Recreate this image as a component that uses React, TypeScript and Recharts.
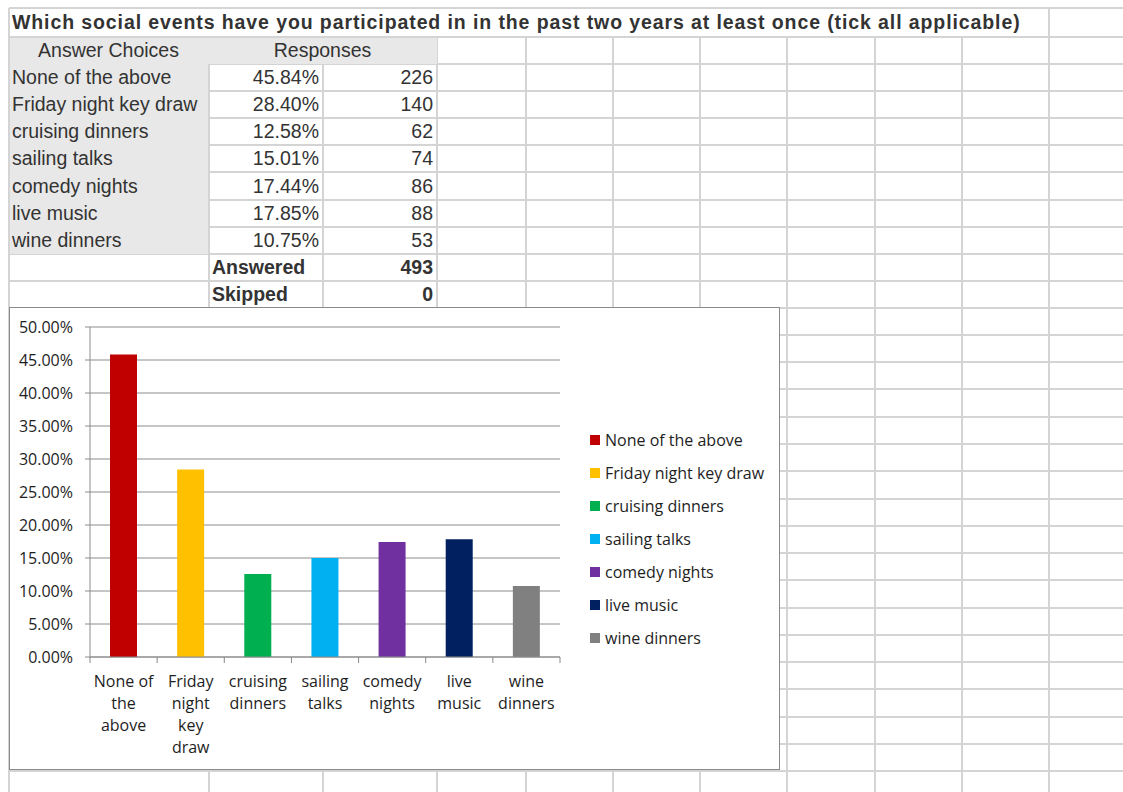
import React from "react";
import { BarChart, Bar, XAxis, YAxis, CartesianGrid, Cell, Legend } from "recharts";

const title = "Which social events have you participated in in the past two years at least once (tick all applicable)";
const categories = [
  "None of the above",
  "Friday night key draw",
  "cruising dinners",
  "sailing talks",
  "comedy nights",
  "live music",
  "wine dinners",
];
const shares = [0.4584, 0.284, 0.1258, 0.1501, 0.1744, 0.1785, 0.1075];
const counts = [226, 140, 62, 74, 86, 88, 53];
const colors = ["#C00000", "#FFC000", "#00B050", "#00B0F0", "#7030A0", "#002060", "#808080"];
// wrapped category labels as they appear under the bars
const tickLines = [
  ["None of", "the", "above"],
  ["Friday", "night", "key", "draw"],
  ["cruising", "dinners"],
  ["sailing", "talks"],
  ["comedy", "nights"],
  ["live", "music"],
  ["wine", "dinners"],
];
const yTicks = [0, 0.05, 0.1, 0.15, 0.2, 0.25, 0.3, 0.35, 0.4, 0.45, 0.5];
const answered = 493;
const skipped = 0;

// sheet layout
const colX = [9, 209, 323, 437, 526, 613, 700, 787, 875, 962, 1049, 1136];
const rowY = [8, 37, 64, 91, 118, 145, 172, 200, 227, 254, 281, 308, 335, 362, 389, 417, 444, 471, 499, 526, 553, 580, 608, 635, 662, 689, 717, 744, 771, 798];
const GRID = "#d4d4d4";
const SHADE = "#e8e8e8";
const TXT = "#333";
const CHART_TXT = "#1e1e1e";
const chartFont = "'Open Sans', sans-serif";
const CHART_FS = 16;

const PLOT_W = 470;
const BAND = PLOT_W / categories.length;

const data = categories.map((name, i) => ({ name, share: shares[i] }));
const pct = (v: number) => (v * 100).toFixed(2) + "%";

function CategoryTick(props: any) {
  const { x, y, index } = props;
  const lines = tickLines[index] || [];
  return (
    <g>
      <line x1={x - BAND / 2} x2={x - BAND / 2} y1={y} y2={y + 6} stroke="#888" />
      {index === categories.length - 1 && (
        <line x1={x + BAND / 2} x2={x + BAND / 2} y1={y} y2={y + 6} stroke="#888" />
      )}
      <text x={x} y={y + 30} textAnchor="middle" fill={CHART_TXT} fontSize={CHART_FS} fontFamily={chartFont}>
        {lines.map((l, i) => (
          <tspan key={i} x={x} dy={i === 0 ? 0 : 22}>
            {l}
          </tspan>
        ))}
      </text>
    </g>
  );
}

function LegendBox() {
  return (
    <div style={{ fontFamily: chartFont, fontSize: CHART_FS, color: CHART_TXT }}>
      {categories.map((c, i) => (
        <div key={c} style={{ height: 33, display: "flex", alignItems: "center", whiteSpace: "nowrap" }}>
          <span style={{ width: 10, height: 10, background: colors[i], display: "inline-block", marginRight: 5 }} />
          {c}
        </div>
      ))}
    </div>
  );
}

function Cell_({ x, y, w, h, children, align = "left", bold = false }: any) {
  return (
    <div
      style={{
        position: "absolute",
        left: x,
        top: y,
        width: w,
        height: h,
        display: "flex",
        alignItems: "center",
        justifyContent: align === "right" ? "flex-end" : align === "center" ? "center" : "flex-start",
        padding: "0 4px 0 3px",
        boxSizing: "border-box",
        fontFamily: "'Liberation Sans', Arial, sans-serif",
        fontSize: 19.5,
        fontWeight: bold ? 700 : 400,
        color: TXT,
        whiteSpace: "nowrap",
      }}
    >
      {children}
    </div>
  );
}

function SheetGrid() {
  const lines: React.ReactNode[] = [];
  lines.push(<rect key="top" x={9} y={7} width={1114} height={2} fill={GRID} />);
  rowY.slice(1).forEach((y, i) => lines.push(<rect key={"r" + i} x={9} y={y - 1} width={1114} height={2} fill={GRID} />));
  colX.forEach((x, i) => lines.push(<rect key={"c" + i} x={x - 1} y={37} width={2} height={760} fill={GRID} />));
  lines.push(<rect key="t0" x={8} y={8} width={2} height={29} fill={GRID} />);
  lines.push(<rect key="t1" x={1048} y={8} width={2} height={29} fill={GRID} />);
  return (
    <svg width={1123} height={792} style={{ position: "absolute", left: 0, top: 0 }}>
      <rect x={0} y={0} width={1123} height={792} fill="#fff" />
      {lines}
      <rect x={10} y={38} width={427} height={26} fill={SHADE} />
      <rect x={10} y={64} width={198} height={190} fill={SHADE} />
    </svg>
  );
}

export default function App() {
  const rowH = (i: number) => rowY[i + 1] - rowY[i];
  return (
    <div style={{ position: "absolute", left: 0, top: 0, width: 1123, height: 792, overflow: "hidden", background: "#fff" }}>
      <SheetGrid />
      <div
        style={{
          position: "absolute",
          left: 12,
          top: 8,
          height: 29,
          display: "flex",
          alignItems: "center",
          fontFamily: "'Liberation Sans', Arial, sans-serif",
          fontWeight: 700,
          fontSize: 19.5,
          letterSpacing: 0.9,
          color: TXT,
          whiteSpace: "nowrap",
        }}
      >
        {title}
      </div>
      <Cell_ x={colX[0]} y={rowY[1]} w={colX[1] - colX[0]} h={rowH(1)} align="center">
        Answer Choices
      </Cell_>
      <Cell_ x={colX[1]} y={rowY[1]} w={colX[3] - colX[1]} h={rowH(1)} align="center">
        Responses
      </Cell_>
      {categories.map((c, i) => (
        <React.Fragment key={c}>
          <Cell_ x={colX[0]} y={rowY[i + 2]} w={colX[1] - colX[0]} h={rowH(i + 2)}>
            {c}
          </Cell_>
          <Cell_ x={colX[1]} y={rowY[i + 2]} w={colX[2] - colX[1]} h={rowH(i + 2)} align="right">
            {pct(shares[i])}
          </Cell_>
          <Cell_ x={colX[2]} y={rowY[i + 2]} w={colX[3] - colX[2]} h={rowH(i + 2)} align="right">
            {counts[i]}
          </Cell_>
        </React.Fragment>
      ))}
      <Cell_ x={colX[1]} y={rowY[9]} w={colX[2] - colX[1]} h={rowH(9)} bold>
        Answered
      </Cell_>
      <Cell_ x={colX[2]} y={rowY[9]} w={colX[3] - colX[2]} h={rowH(9)} align="right" bold>
        {answered}
      </Cell_>
      <Cell_ x={colX[1]} y={rowY[10]} w={colX[2] - colX[1]} h={rowH(10)} bold>
        Skipped
      </Cell_>
      <Cell_ x={colX[2]} y={rowY[10]} w={colX[3] - colX[2]} h={rowH(10)} align="right" bold>
        {skipped}
      </Cell_>

      <div
        style={{
          position: "absolute",
          left: 9,
          top: 307,
          width: 771,
          height: 463,
          border: "1px solid #8a8a8a",
          boxSizing: "border-box",
          background: "#fff",
        }}
      >
        <BarChart width={769} height={461} data={data} margin={{ top: 19, right: 219, bottom: 0, left: 0 }}>
          <CartesianGrid vertical={false} stroke="#8c8c8c" />
          <XAxis
            dataKey="name"
            height={112}
            interval={0}
            tickSize={0}
            tickMargin={0}
            tickLine={false}
            axisLine={{ stroke: "#8c8c8c" }}
            tick={<CategoryTick />}
          />
          <YAxis
            width={80}
            domain={[0, 0.5]}
            ticks={yTicks}
            tickFormatter={pct}
            tickSize={5}
            tickMargin={12}
            axisLine={{ stroke: "#8c8c8c" }}
            tickLine={{ stroke: "#8c8c8c" }}
            tick={{ fill: CHART_TXT, fontSize: CHART_FS, fontFamily: chartFont }}
          />
          <Legend
            layout="vertical"
            align="center"
            verticalAlign="middle"
            wrapperStyle={{ left: 580, top: 115, width: 185 }}
            content={() => <LegendBox />}
          />
          <Bar dataKey="share" barSize={27} isAnimationActive={false}>
            {data.map((d, i) => (
              <Cell key={d.name} fill={colors[i]} />
            ))}
          </Bar>
        </BarChart>
      </div>
    </div>
  );
}
